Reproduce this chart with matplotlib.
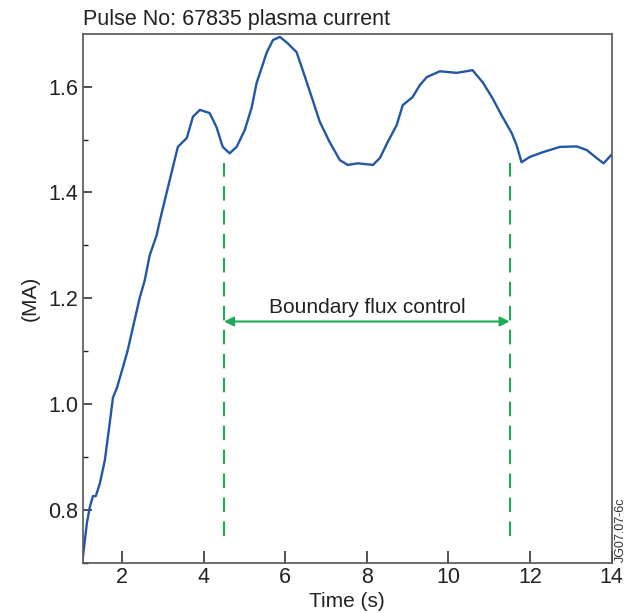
import matplotlib
matplotlib.use('Agg')
import matplotlib.pyplot as plt

#Data
time_s = [1.04, 1.14, 1.21, 1.29, 1.36, 1.46, 1.58, 1.70, 1.78, 1.88, 2.00, 2.14, 2.27,
          2.44, 2.56, 2.68, 2.85, 2.93, 3.05, 3.17, 3.37, 3.59, 3.74, 3.91, 4.15, 4.32,
          4.47, 4.64, 4.81, 5.01, 5.18, 5.30, 5.43, 5.55, 5.70, 5.87, 6.06, 6.28, 6.43,
          6.65, 6.85, 7.09, 7.34, 7.53, 7.78, 8.15, 8.32, 8.51, 8.73, 8.88, 9.12, 9.30,
          9.47, 9.79, 10.20, 10.59, 10.84, 11.08, 11.30, 11.55, 11.67, 11.79, 11.99, 12.31,
          12.73, 13.14, 13.39, 13.63, 13.80, 13.98]
current_ma = [0.708, 0.774, 0.804, 0.826, 0.826, 0.850, 0.893, 0.963, 1.012, 1.031, 1.063,
              1.101, 1.145, 1.202, 1.234, 1.281, 1.319, 1.347, 1.385, 1.423, 1.486, 1.503,
              1.543, 1.556, 1.550, 1.523, 1.486, 1.474, 1.486, 1.518, 1.561, 1.607, 1.637,
              1.665, 1.688, 1.694, 1.682, 1.665, 1.631, 1.580, 1.533, 1.495, 1.461, 1.452,
              1.455, 1.452, 1.465, 1.495, 1.527, 1.565, 1.580, 1.603, 1.618, 1.629, 1.626,
              1.631, 1.608, 1.578, 1.546, 1.512, 1.489, 1.457, 1.467, 1.476, 1.486, 1.487,
              1.480, 1.465, 1.455, 1.470]
control_start = 4.5
control_end = 11.5
control_label = 'Boundary flux control'

BLUE = '#2256a6'
GREEN = '#1faa55'
plt.rcParams['font.family'] = ['Liberation Sans', 'DejaVu Sans']

fig = plt.figure(figsize=(6.3, 6.13), dpi=100)
ax = fig.add_axes([0.131, 0.082, 0.840, 0.863])

ax.plot(time_s, current_ma, color=BLUE, linewidth=1.7)

# dashed markers for the control window
for xv in (control_start, control_end):
    ax.plot([xv, xv], [0.751, 1.455], color=GREEN, linewidth=1.5, dashes=(7, 4.5))
ax.annotate('', xy=(control_start, 1.156), xytext=(control_end, 1.156),
            arrowprops=dict(arrowstyle='<|-|>', color=GREEN, lw=1.5, mutation_scale=14,
                            shrinkA=0, shrinkB=0))
ax.text((control_start + control_end) / 2, 1.172, control_label,
        ha='center', va='baseline', fontsize=15, color='#222222')

ax.set_xlim(1.035, 14.0)
ax.set_ylim(0.7, 1.7)
ax.set_xticks([2, 4, 6, 8, 10, 12, 14])
ax.set_yticks([0.8, 1.0, 1.2, 1.4, 1.6])
ax.set_yticks([0.7, 0.9, 1.1, 1.3, 1.5], minor=True)
ax.tick_params(axis='both', which='major', direction='in', labelsize=15.5, colors='#222222', pad=3)
ax.tick_params(axis='x', which='major', length=8.5, width=1.1)
ax.tick_params(axis='y', which='major', length=6.5, width=1.1)
ax.tick_params(axis='y', which='minor', direction='in', length=3.8, width=1.0, color='#222222')
for sp in ax.spines.values():
    sp.set_color('#555555')
    sp.set_linewidth(1.2)

ax.set_xlabel('Time (s)', fontsize=15, color='#222222', labelpad=3)
ax.set_ylabel('(MA)', fontsize=15, color='#222222', labelpad=6)
ax.set_title('Pulse No: 67835 plasma current', loc='left', fontsize=15.5, color='#222222', pad=6)

fig.text(0.985, 0.083, 'JG07.07-6c', rotation=90, fontsize=9, color='#333333',
         ha='center', va='bottom')

plt.savefig('out.png', dpi=100)
